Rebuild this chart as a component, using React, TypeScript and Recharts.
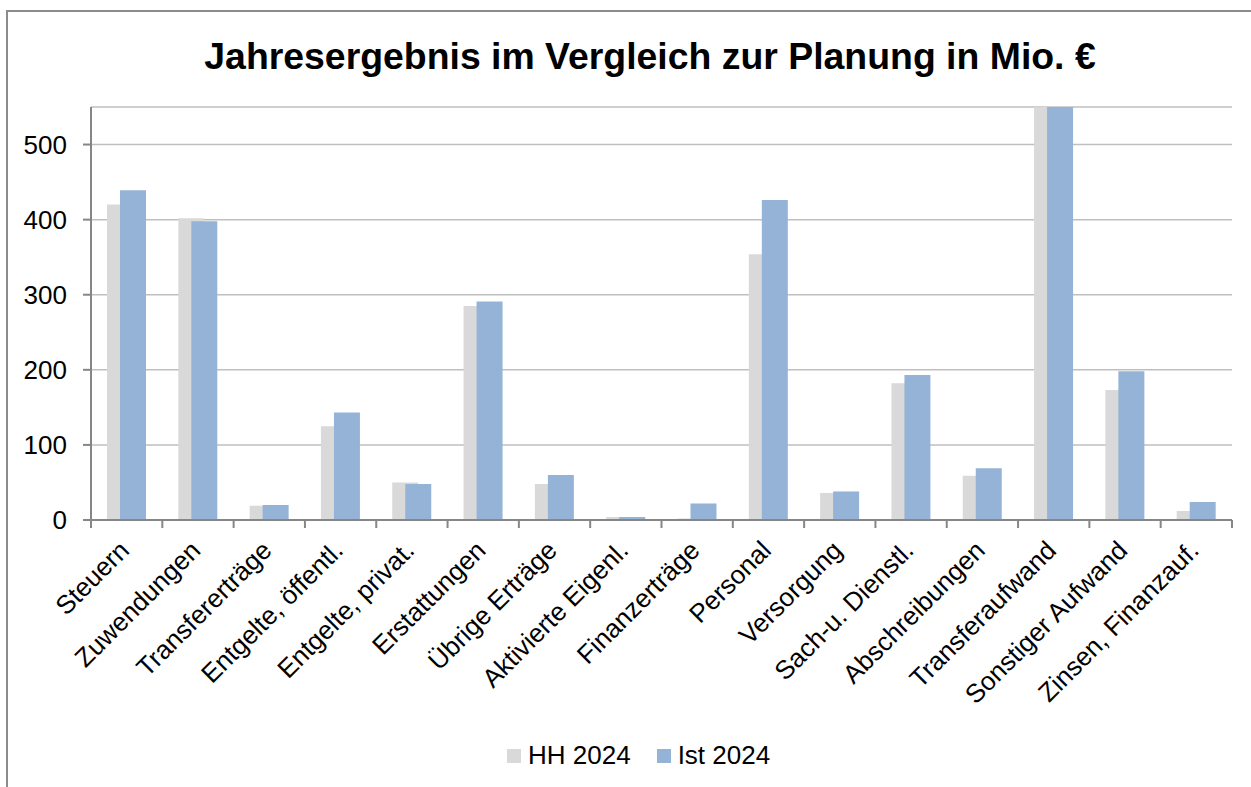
import React from 'react';
import { BarChart, Bar, XAxis, YAxis, CartesianGrid, Legend } from 'recharts';

const categories = [
  'Steuern', 'Zuwendungen', 'Transfererträge', 'Entgelte, öffentl.', 'Entgelte, privat.',
  'Erstattungen', 'Übrige Erträge', 'Aktivierte Eigenl.', 'Finanzerträge', 'Personal',
  'Versorgung', 'Sach-u. Dienstl.', 'Abschreibungen', 'Transferaufwand', 'Sonstiger Aufwand',
  'Zinsen, Finanzauf.',
];
const hh2024 = [420, 402, 19, 125, 50, 285, 48, 4, 2, 354, 36, 182, 59, 600, 173, 12];
const ist2024 = [439, 398, 20, 143, 48, 291, 60, 4, 22, 426, 38, 193, 69, 610, 198, 24];
const yTicks = [0, 100, 200, 300, 400, 500];
const seriesNames = ['HH 2024', 'Ist 2024'];
const colors = ['#D9D9D9', '#95B3D7'];

const data = categories.map((c, i) => ({ name: c, hh: hh2024[i], ist: ist2024[i] }));

const FONT = '"Liberation Sans", Arial, Helvetica, sans-serif';
const AXIS = '#868686';

const W = 1251;
const H = 787;
const M = { top: 107, right: 19, left: 0, bottom: 0 };
const YW = 91;
const BAND = (W - M.right - YW) / categories.length;

const XTick = (props: any) => {
  const { x, y, payload, index, visibleTicksCount } = props;
  const off = payload && typeof payload.offset === 'number' && payload.offset > 0 ? payload.offset : BAND / 2;
  const ax = x + 4;
  const ay = y + 32;
  return (
    <g>
      <line x1={x - off} x2={x - off} y1={y} y2={y + 8} stroke={AXIS} strokeWidth={2} />
      {index === visibleTicksCount - 1 && (
        <line x1={x + off} x2={x + off} y1={y} y2={y + 8} stroke={AXIS} strokeWidth={2} />
      )}
      <text
        x={ax}
        y={ay}
        transform={`rotate(-45 ${ax} ${ay})`}
        textAnchor="end"
        fontSize={26}
        fontFamily={FONT}
        fill="#000"
      >
        {payload.value}
      </text>
    </g>
  );
};

const LegendContent = () => (
  <div style={{ display: 'flex', alignItems: 'center', fontFamily: FONT, fontSize: 26, color: '#000', whiteSpace: 'nowrap' }}>
    {seriesNames.map((n, i) => (
      <div key={n} style={{ display: 'flex', alignItems: 'center', marginRight: i === 0 ? 26 : 0 }}>
        <span style={{ display: 'inline-block', width: 14, height: 14, background: colors[i], marginRight: 7 }} />
        <span>{n}</span>
      </div>
    ))}
  </div>
);

export default function App() {
  return (
    <div style={{ position: 'absolute', left: 0, top: 0, width: W, height: H, overflow: 'hidden', background: '#fff' }}>
      <div style={{ position: 'absolute', left: 6, top: 10, width: W + 50, height: H + 50, borderLeft: '2px solid #8c8c8c', borderTop: '2px solid #8c8c8c' }} />
      <div style={{ position: 'absolute', left: 150, top: 34, width: 1000, textAlign: 'center', fontFamily: FONT, fontWeight: 'bold', fontSize: 37.4, color: '#000', lineHeight: '44px' }}>
        Jahresergebnis im Vergleich zur Planung in Mio. €
      </div>
      <div style={{ position: 'absolute', left: 0, top: 0 }}>
        <BarChart width={W} height={H} data={data} margin={M} barSize={26} barGap={-13} barCategoryGap={0}>
          <CartesianGrid vertical={false} stroke="#BFBFBF" strokeWidth={1.5} />
          <XAxis
            dataKey="name"
            interval={0}
            height={H - 520}
            tickLine={false}
            tickSize={0}
            tickMargin={0}
            axisLine={{ stroke: AXIS, strokeWidth: 2 }}
            tick={<XTick />}
          />
          <YAxis
            width={YW}
            domain={[0, 550]}
            allowDataOverflow
            ticks={yTicks}
            tickSize={8}
            tickMargin={16}
            axisLine={{ stroke: AXIS, strokeWidth: 2 }}
            tickLine={{ stroke: AXIS, strokeWidth: 2 }}
            tick={{ fontSize: 26, fontFamily: FONT, fill: '#000' }}
          />
          <Legend
            layout="horizontal"
            verticalAlign="middle"
            align="center"
            content={<LegendContent />}
            wrapperStyle={{ left: 507, top: 740, width: 'auto', height: 'auto' }}
          />
          <Bar dataKey="hh" name={seriesNames[0]} fill={colors[0]} isAnimationActive={false} />
          <Bar dataKey="ist" name={seriesNames[1]} fill={colors[1]} isAnimationActive={false} />
        </BarChart>
      </div>
    </div>
  );
}
